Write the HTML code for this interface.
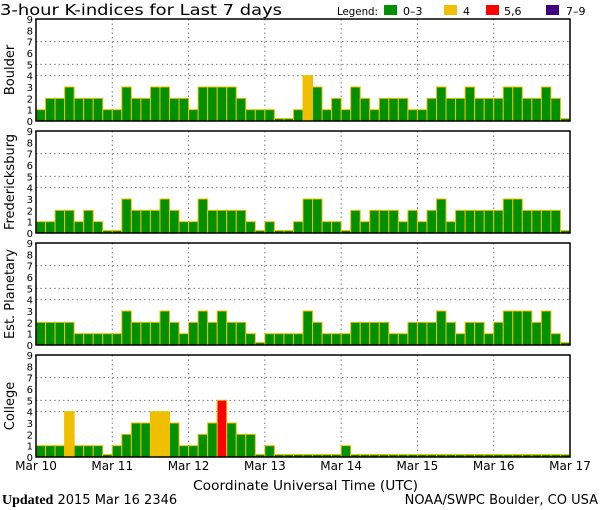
<!DOCTYPE html>
<html><head><meta charset="utf-8"><style>
body{margin:0;background:#fff;width:600px;height:510px;overflow:hidden}
svg{display:block;font-family:"DejaVu Sans","Liberation Sans",sans-serif}
</style></head><body>
<svg id="c" width="600" height="510">
<text x="0" y="15" font-size="15" textLength="282" lengthAdjust="spacingAndGlyphs">3-hour K-indices for Last 7 days</text>
<g font-size="11">
<text x="337" y="15" textLength="41" lengthAdjust="spacingAndGlyphs">Legend:</text>
<rect x="384" y="5" width="13" height="10" fill="#009000"/>
<text x="403" y="15">0–3</text>
<rect x="444" y="5" width="13" height="10" fill="#f0c000"/>
<text x="463" y="15">4</text>
<rect x="486" y="5" width="13" height="10" fill="#ff0000"/>
<text x="504" y="15">5,6</text>
<rect x="546" y="5" width="13" height="10" fill="#400080"/>
<text x="566" y="15">7–9</text>
</g>
<text x="193" y="490" font-size="13" textLength="225" lengthAdjust="spacingAndGlyphs">Coordinate Universal Time (UTC)</text>
<text x="2" y="504" font-size="13"><tspan font-weight="bold" font-family="Liberation Serif,serif" font-size="14">Updated</tspan> 2015 Mar 16 2346</text>
<text x="598" y="504" font-size="13" text-anchor="end">NOAA/SWPC Boulder, CO USA</text>
</svg>
<script>
const stations = ["Boulder","Fredericksburg","Est. Planetary","College"];
const boulder = [1,2,2,3,2,2,2,1, 1,3,2,2,3,3,2,2, 1,3,3,3,3,2,1,1, 1,0,0,1,4,3,1,2, 1,3,2,1,2,2,2,1, 1,2,3,2,2,3,2,2, 2,3,3,2,2,3,2,0];
const fredericksburg = [1,1,2,2,1,2,1,0, 0,3,2,2,2,3,2,1, 1,3,2,2,2,2,1,0, 1,0,0,1,3,3,1,1, 0,2,1,2,2,2,1,2, 1,2,3,1,2,2,2,2, 2,3,3,2,2,2,2,0];
const planetary = [2,2,2,2,1,1,1,1, 1,3,2,2,2,3,2,1, 2,3,2,3,2,2,1,0, 1,1,1,1,3,2,1,1, 1,2,2,2,2,1,1,2, 2,2,3,2,1,2,2,1, 2,3,3,3,2,3,1,0];
const college = [1,1,1,4,1,1,1,0, 1,2,3,3,4,4,3,1, 1,2,3,5,3,2,2,0, 1,0,0,0,0,0,0,0, 1,0,0,0,0,0,0,0, 0,0,0,0,0,0,0,0, 0,0,0,0,0,0,0,0];
const series = [boulder, fredericksburg, planetary, college];
const dayLabels = ["Mar 10","Mar 11","Mar 12","Mar 13","Mar 14","Mar 15","Mar 16","Mar 17"];
const yTicks = [0,1,2,3,4,5,6,7,8,9];
const NS="http://www.w3.org/2000/svg", svg=document.getElementById('c');
const X0=36, X1=570, PH=102, nBars=56;
const xs = i => X0 + i*(X1-X0)/nBars;
const ys = (v,top) => top+PH - v*PH/9;
function mk(t,a,p){const e=document.createElementNS(NS,t);for(const k in a)e.setAttribute(k,a[k]);(p||svg).appendChild(e);return e;}
function col(v){return v>=7?"#400080":v>=5?"#ff0000":v===4?"#f0c000":"#009000";}
series.forEach((data,p)=>{
  const top=19+p*112;
  const g=mk('g',{});
  
  
  [4,5,7].forEach(v=>{const l=mk('line',{x1:X0,x2:X1,y1:ys(v,top),y2:ys(v,top),stroke:'#777','stroke-dasharray':'1.5,3'},g);
    
    });
  for(let d=1;d<7;d++){const x=xs(d*8);const l=mk('line',{x1:x,x2:x,y1:top,y2:top+PH,stroke:'#777','stroke-dasharray':'1.5,3'},g);
    
    }
  data.forEach((v,i)=>{
    const x=xs(i), w=xs(i+1)-x, y=ys(v,top), h=Math.max(2.5,top+PH-y);
    const r=mk('rect',{x:x,y:top+PH-h,width:w,height:h,fill:col(v),stroke:'#f0c000','stroke-width':1},g);
    
    
  });
  const fr=mk('rect',{x:X0,y:top,width:X1-X0,height:PH,fill:'none',stroke:'#000','stroke-width':1.5},g);
  
  
  yTicks.forEach(v=>{const t=mk('text',{x:33,y:ys(v,top)+4,'font-size':10,'text-anchor':'end'},g);t.textContent=v;
    
    });
  const cy=top+PH/2;
  const yl=mk('text',{x:0,y:0,'font-size':13,'text-anchor':'middle',transform:`translate(14,${cy}) rotate(-90)`},g);
  yl.textContent=stations[p];
  
  
});
dayLabels.forEach((s,d)=>{const t=mk('text',{x:xs(d*8),y:470,'font-size':12,'text-anchor':'middle'});t.textContent=s;
  
  });
</script>
</body></html>
